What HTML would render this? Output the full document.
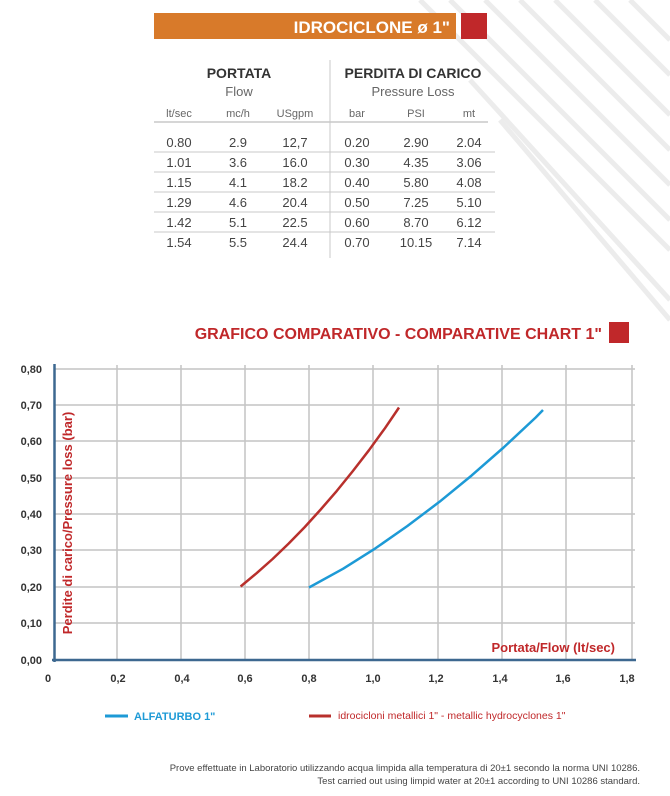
<!DOCTYPE html>
<html><head><meta charset="utf-8"><style>
body{margin:0;background:#fff;}
svg{display:block;font-family:"Liberation Sans",sans-serif;}
</style></head><body>
<svg width="670" height="796" viewBox="0 0 670 796" xmlns="http://www.w3.org/2000/svg">
<g stroke="#ececec" stroke-width="5" fill="none">
<line x1="420" y1="0" x2="670" y2="250"/>
<line x1="450" y1="0" x2="670" y2="220"/>
<line x1="485" y1="0" x2="670" y2="185"/>
<line x1="520" y1="0" x2="670" y2="150"/>
<line x1="555" y1="0" x2="670" y2="115"/>
<line x1="595" y1="0" x2="670" y2="75"/>
<line x1="630" y1="0" x2="670" y2="40"/>
<line x1="470" y1="80" x2="670" y2="300"/>
<line x1="500" y1="120" x2="670" y2="320"/>
</g>
<rect x="154" y="13" width="302" height="26" fill="#d87a2a"/>
<rect x="461" y="13" width="26" height="26" fill="#c0282a"/>
<text x="450" y="33" text-anchor="end" fill="#fff" font-size="17" font-weight="bold">IDROCICLONE ø 1"</text>
<g fill="#333" text-anchor="middle">
<text x="239" y="78" font-size="14" font-weight="bold">PORTATA</text>
<text x="239" y="96" font-size="13" fill="#666">Flow</text>
<text x="413" y="78" font-size="14" font-weight="bold">PERDITA DI CARICO</text>
<text x="413" y="96" font-size="13" fill="#666">Pressure Loss</text>
<g font-size="11" fill="#666">
<text x="179" y="117">lt/sec</text><text x="238" y="117">mc/h</text><text x="295" y="117">USgpm</text>
<text x="357" y="117">bar</text><text x="416" y="117">PSI</text><text x="469" y="117">mt</text>
</g>
<g font-size="13" fill="#444">
<text x="179" y="147">0.80</text><text x="238" y="147">2.9</text><text x="295" y="147">12,7</text><text x="357" y="147">0.20</text><text x="416" y="147">2.90</text><text x="469" y="147">2.04</text>
<text x="179" y="167">1.01</text><text x="238" y="167">3.6</text><text x="295" y="167">16.0</text><text x="357" y="167">0.30</text><text x="416" y="167">4.35</text><text x="469" y="167">3.06</text>
<text x="179" y="187">1.15</text><text x="238" y="187">4.1</text><text x="295" y="187">18.2</text><text x="357" y="187">0.40</text><text x="416" y="187">5.80</text><text x="469" y="187">4.08</text>
<text x="179" y="207">1.29</text><text x="238" y="207">4.6</text><text x="295" y="207">20.4</text><text x="357" y="207">0.50</text><text x="416" y="207">7.25</text><text x="469" y="207">5.10</text>
<text x="179" y="227">1.42</text><text x="238" y="227">5.1</text><text x="295" y="227">22.5</text><text x="357" y="227">0.60</text><text x="416" y="227">8.70</text><text x="469" y="227">6.12</text>
<text x="179" y="247">1.54</text><text x="238" y="247">5.5</text><text x="295" y="247">24.4</text><text x="357" y="247">0.70</text><text x="416" y="247">10.15</text><text x="469" y="247">7.14</text>
</g>
</g>
<g stroke="#c8c8c8" stroke-width="1">
<line x1="154" y1="122" x2="488" y2="122" stroke-width="1.5"/>
<line x1="154" y1="152" x2="495" y2="152"/><line x1="154" y1="172" x2="495" y2="172"/>
<line x1="154" y1="192" x2="495" y2="192"/><line x1="154" y1="212" x2="495" y2="212"/>
<line x1="154" y1="232" x2="495" y2="232"/>
<line x1="330" y1="60" x2="330" y2="258"/>
</g>
<text x="602" y="339" text-anchor="end" fill="#c0282a" font-size="16" font-weight="bold">GRAFICO COMPARATIVO - COMPARATIVE CHART 1"</text>
<rect x="609" y="322" width="20" height="21" fill="#c0282a"/>
<g stroke="#c4c4c4" stroke-width="1.5">
<line x1="54" y1="369" x2="635" y2="369"/><line x1="54" y1="405" x2="635" y2="405"/>
<line x1="54" y1="441" x2="635" y2="441"/><line x1="54" y1="478" x2="635" y2="478"/>
<line x1="54" y1="514" x2="635" y2="514"/><line x1="54" y1="550" x2="635" y2="550"/>
<line x1="54" y1="587" x2="635" y2="587"/><line x1="54" y1="623" x2="635" y2="623"/>
<line x1="117" y1="365" x2="117" y2="660"/><line x1="181" y1="365" x2="181" y2="660"/>
<line x1="245" y1="365" x2="245" y2="660"/><line x1="309" y1="365" x2="309" y2="660"/>
<line x1="373" y1="365" x2="373" y2="660"/><line x1="438" y1="365" x2="438" y2="660"/>
<line x1="502" y1="365" x2="502" y2="660"/><line x1="566" y1="365" x2="566" y2="660"/>
<line x1="632" y1="365" x2="632" y2="660"/>
</g>
<g stroke="#3d6890" stroke-width="2.5">
<line x1="54.5" y1="364" x2="54.5" y2="662"/>
<line x1="52" y1="660" x2="636" y2="660"/>
</g>
<g font-size="11" fill="#333" font-weight="bold">
<g text-anchor="end">
<text x="42" y="373">0,80</text><text x="42" y="409">0,70</text><text x="42" y="445">0,60</text>
<text x="42" y="482">0,50</text><text x="42" y="518">0,40</text><text x="42" y="554">0,30</text>
<text x="42" y="591">0,20</text><text x="42" y="627">0,10</text><text x="42" y="664">0,00</text>
</g>
<g text-anchor="middle">
<text x="48" y="682">0</text><text x="118" y="682">0,2</text><text x="182" y="682">0,4</text>
<text x="245" y="682">0,6</text><text x="309" y="682">0,8</text><text x="373" y="682">1,0</text>
<text x="436" y="682">1,2</text><text x="500" y="682">1,4</text><text x="563" y="682">1,6</text><text x="627" y="682">1,8</text>
</g>
</g>
<text transform="translate(72,523) rotate(-90)" text-anchor="middle" fill="#c0282a" font-size="13" font-weight="bold">Perdite di carico/Pressure loss (bar)</text>
<text x="615" y="652" text-anchor="end" fill="#c0282a" font-size="13" font-weight="bold">Portata/Flow (lt/sec)</text>
<polyline fill="none" stroke="#b8302c" stroke-width="2.5" stroke-linejoin="round" points="240.6,586.5 256.6,573.2 272.6,559 288.6,543.6 304.7,527.1 320.7,509.5 336.8,490.9 352.8,471.1 368.9,450.3 384.9,428.3 397,410.5 399,407.5"/>
<polyline fill="none" stroke="#1d9ad6" stroke-width="2.5" stroke-linejoin="round" points="309,587.5 343.2,568.7 375.3,548.4 407.4,526 439.5,501.8 471.5,475.6 503.6,447.5 535.7,417.5 543,410"/>
<line x1="105" y1="716" x2="128" y2="716" stroke="#1d9ad6" stroke-width="3"/>
<text x="134" y="720" fill="#1d9ad6" font-size="11" font-weight="bold">ALFATURBO 1"</text>
<line x1="309" y1="716" x2="331" y2="716" stroke="#b8302c" stroke-width="3"/>
<text x="338" y="719" fill="#c0282a" font-size="10.5">idrocicloni metallici 1" - metallic hydrocyclones 1"</text>
<g font-size="9.5" fill="#444" text-anchor="end">
<text x="640" y="771">Prove effettuate in Laboratorio utilizzando acqua limpida alla temperatura di 20±1 secondo la norma UNI 10286.</text>
<text x="640" y="784">Test carried out using limpid water at 20±1 according to UNI 10286 standard.</text>
</g>
</svg>
</body></html>
